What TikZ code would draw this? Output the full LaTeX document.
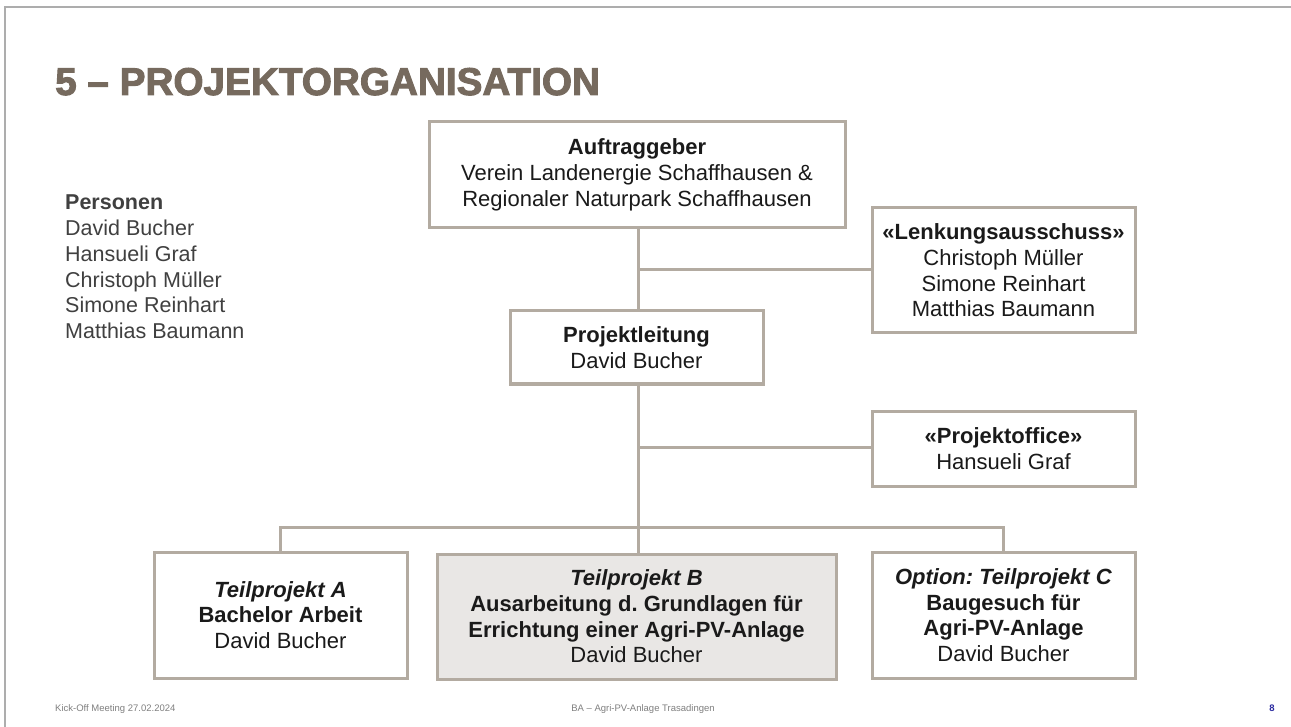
\documentclass[tikz,border=0pt]{standalone}
\usepackage{fontspec}
\setmainfont{Liberation Sans}
\newfontfamily\titlefont{Liberation Sans}[BoldFeatures={FakeBold=2.5}]
\definecolor{frame}{HTML}{ADADAD}
\definecolor{boxline}{HTML}{B3ABA1}
\definecolor{titlec}{HTML}{766A5E}
\definecolor{txt}{HTML}{1A1A1A}
\definecolor{pers}{HTML}{404040}
\definecolor{bfill}{HTML}{E9E7E5}
\definecolor{foot}{HTML}{808080}
\definecolor{pagec}{HTML}{2A2AA0}
\tikzset{
  orgbox/.style={draw=boxline, line width=3pt, fill=white, align=center, text=txt,
    font=\fontsize{22pt}{25.7pt}\selectfont, inner sep=0pt},
  conn/.style={draw=boxline, line width=3pt}
}
\begin{document}
\frenchspacing
\begin{tikzpicture}[x=1pt,y=-1pt]
\useasboundingbox (0,0) rectangle (1291,727);
\fill[white] (0,0) rectangle (1291,727);
\draw[frame, line width=2pt] (5,727) -- (5,7) -- (1291,7);

\node[anchor=base west, text=titlec, font=\fontsize{38.7pt}{40pt}\selectfont\titlefont\bfseries, inner sep=0pt] (title) at (55,95) {5 – PROJEKTORGANISATION};

\node[anchor=north west, align=left, text=pers, inner sep=0pt, font=\fontsize{21.5pt}{25.7pt}\selectfont] (pers) at (65,195)
 {\textbf{Personen}\\David Bucher\\Hansueli Graf\\Christoph Müller\\Simone Reinhart\\Matthias Baumann};

\node[orgbox, minimum width=416pt, minimum height=106pt] (auf) at (637,175)
 {\textbf{Auftraggeber}\\Verein Landenergie Schaffhausen \&\\Regionaler Naturpark Schaffhausen};
\node[orgbox, minimum width=263pt, minimum height=125pt] (lenk) at (1003.5,270.5)
 {\textbf{«Lenkungsausschuss»}\\Christoph Müller\\Simone Reinhart\\Matthias Baumann};
\node[orgbox, minimum width=253pt, minimum height=73pt] (pl) at (636.5,347.5)
 {\textbf{Projektleitung}\\David Bucher};
\node[orgbox, minimum width=263pt, minimum height=75pt] (po) at (1003.5,448.5)
 {\textbf{«Projektoffice»}\\Hansueli Graf};
\node[orgbox, minimum width=253pt, minimum height=126pt] (ta) at (280.5,615)
 {\textbf{\textit{Teilprojekt A}}\\\textbf{Bachelor Arbeit}\\David Bucher};
\node[orgbox, fill=bfill, minimum width=399pt, minimum height=125pt] (tb) at (636.5,616.5)
 {\textbf{\textit{Teilprojekt B}}\\\textbf{Ausarbeitung d. Grundlagen für}\\\textbf{Errichtung einer Agri-PV-Anlage}\\David Bucher};
\node[orgbox, minimum width=263pt, minimum height=126pt] (tc) at (1003.5,615)
 {\textbf{\textit{Option: Teilprojekt C}}\\\textbf{Baugesuch für}\\\textbf{Agri-PV-Anlage}\\David Bucher};

\coordinate (j1) at (638,270);
\coordinate (j2) at (638,447);
\coordinate (j3) at (638,527);
\draw[conn] (auf.south -| j1) -- (pl.north -| j1);
\draw[conn] (j1) -- (lenk.west |- j1);
\draw[conn] (pl.south -| j1) -- (tb.north -| j1);
\draw[conn] (j2) -- (po.west |- j2);
\draw[conn] (ta.north) -- (ta.north |- j3) -- (tc.north |- j3) -- (tc.north);

\node[anchor=base west, text=foot, inner sep=0pt, font=\fontsize{9.5pt}{11pt}\selectfont] (f1) at (55,711) {Kick-Off Meeting 27.02.2024};
\node[anchor=base, text=foot, inner sep=0pt, font=\fontsize{9.5pt}{11pt}\selectfont] (f2) at (643,711) {BA – Agri-PV-Anlage Trasadingen};
\node[anchor=base, text=pagec, inner sep=0pt, font=\fontsize{9.5pt}{11pt}\selectfont\bfseries] (f3) at (1272,711) {8};
\end{tikzpicture}
\end{document}
